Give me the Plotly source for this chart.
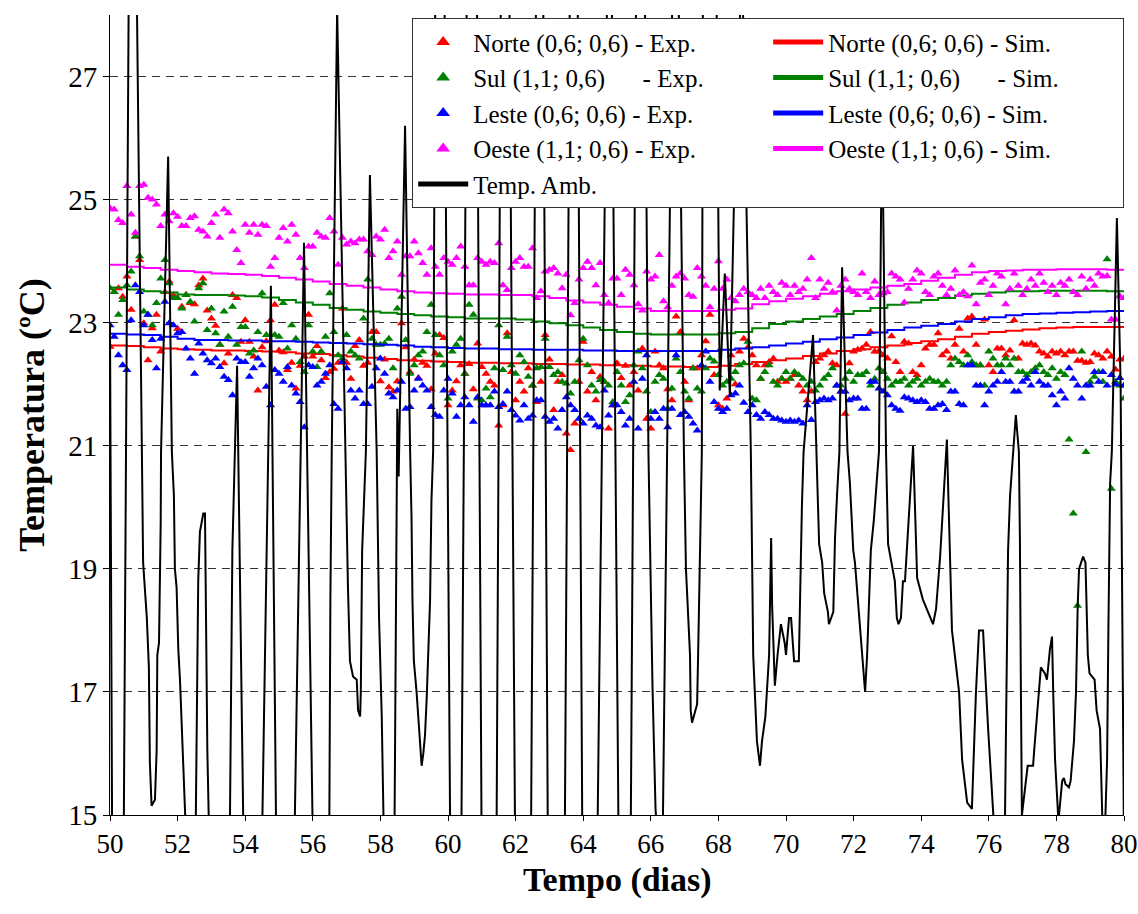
import plotly.graph_objects as go

# ---------------- data ----------------
# experimental series: 8 readings per day, days 50.000 ... 80.000
exp_start_day = 50
exp_per_day = 8

norte_exp = [
    22.61, 23.50, 23.56, 23.42, 23.75, 23.21, 24.40, 24.02,
    22.99, 22.39, 22.91, 23.13, 22.53, 23.50, 23.67, 23.45,
    22.90, 23.26, 23.45, 23.32, 23.30, 23.61, 23.72, 23.20,
    23.07, 22.95, 22.64, 22.34, 22.50, 23.45, 23.40, 22.69,
    23.04, 22.69, 22.45, 21.90, 22.60, 22.70, 23.04, 23.29,
    22.55, 22.52, 22.23, 22.35, 21.93, 22.30, 22.45, 23.13,
    22.45, 22.62, 22.39, 22.10, 22.20, 22.25, 22.35, 23.23,
    22.35, 22.09, 22.62, 22.72, 22.30, 22.35, 22.85, 22.85,
    22.05, 22.40, 21.95, 21.88, 22.05, 22.99, 22.60, 22.20,
    22.40, 22.10, 22.35, 22.30, 21.92, 22.50, 22.80, 22.75,
    21.66, 21.90, 22.05, 22.31, 22.17, 22.33, 21.92, 22.66,
    22.28, 22.17, 22.04, 21.98, 21.33, 21.66, 22.83, 22.20,
    21.74, 22.04, 21.88, 22.26, 21.98, 21.71, 22.04, 22.80,
    22.40, 21.58, 22.04, 22.15, 21.20, 20.93, 21.36, 22.04,
    22.69, 21.88, 22.20, 21.74, 22.12, 22.04, 21.28, 21.66,
    22.34, 22.10, 22.30, 21.98, 22.20, 21.90, 22.58, 21.44,
    21.28, 22.53, 22.31, 22.26, 21.92, 21.74, 23.10, 22.85,
    22.04, 21.74, 22.26, 22.26, 22.47, 22.70, 23.13, 22.15,
    21.66, 21.60, 21.77, 22.47, 22.00, 22.53, 22.74, 22.60,
    22.47, 22.31, 22.09, 22.31, 22.36, 22.42, 22.04, 22.09,
    22.04, 22.09, 22.15, 21.98, 21.88, 21.74, 21.88, 22.36,
    22.42, 22.47, 22.53, 22.34, 22.31, 21.88, 21.52, 22.34,
    22.53, 22.56, 22.58, 22.64, 22.85, 22.53, 22.53, 22.47,
    22.42, 22.78, 22.36, 22.20, 22.69, 22.66, 22.20, 22.15,
    22.31, 22.58, 22.64, 22.64, 22.83, 22.47, 22.53, 22.42,
    22.64, 22.90, 22.53, 23.07, 23.10, 22.64, 22.31, 23.05,
    22.31, 22.20, 22.58, 22.58, 22.47, 22.55, 23.04, 22.42,
    22.66, 22.64, 22.66, 22.63, 22.53, 22.50, 22.45, 22.53,
    22.50, 22.53, 22.47, 22.53, 22.53, 22.38, 22.38, 22.35,
    22.36, 22.50, 22.47, 22.42, 22.53, 22.45, 22.24, 22.40,
    22.42,
]

sul_exp = [
    23.56, 23.50, 23.13, 23.37, 23.61, 23.83, 24.40, 24.08,
    23.18, 23.13, 22.96, 23.32, 23.72, 24.02, 23.64, 23.40,
    23.40, 23.23, 23.45, 23.34, 23.02, 23.56, 23.64, 22.88,
    23.23, 22.83, 22.64, 23.18, 22.77, 23.26, 22.64, 22.93,
    22.93, 22.50, 22.55, 22.85, 23.48, 22.80, 22.80, 22.80,
    22.77, 23.32, 22.58, 22.96, 22.74, 22.36, 22.20, 22.96,
    22.53, 22.28, 22.53, 22.77, 23.48, 22.85, 22.47, 22.42,
    22.80, 22.53, 22.47, 22.42, 23.07, 23.70, 22.74, 22.64,
    22.64, 22.66, 22.74, 22.26, 23.23, 23.42, 22.72, 22.17,
    22.31, 22.47, 22.53, 22.85, 23.29, 22.80, 22.47, 22.31,
    21.77, 22.53, 22.64, 22.74, 22.17, 23.29, 23.13, 21.77,
    21.74, 21.93, 21.79, 22.26, 22.96, 22.23, 22.77, 22.31,
    22.17, 22.47, 22.36, 22.12, 21.98, 22.26, 22.28, 22.74,
    22.28, 22.15, 22.20, 22.04, 22.01, 21.85, 22.04, 22.39,
    22.74, 22.31, 21.98, 21.88, 22.07, 22.04, 21.98, 21.71,
    22.20, 21.98, 21.71, 21.82, 22.31, 22.53, 22.26, 21.88,
    21.55, 22.04, 22.15, 22.09, 21.60, 21.93, 22.42, 22.20,
    21.88, 21.77, 22.26, 21.93, 21.88, 22.26, 22.42, 22.37,
    22.15, 21.98, 22.04, 22.09, 22.20, 22.31, 22.34, 22.69,
    21.77, 21.74, 22.09, 22.20, 22.31, 22.04, 21.98, 22.09,
    22.20, 22.09, 22.20, 22.15, 22.09, 21.98, 22.04, 21.90,
    21.98, 22.09, 22.15, 22.26, 21.98, 21.98, 22.09, 22.20,
    22.04, 22.15, 22.15, 22.20, 21.98, 22.09, 22.26, 22.20,
    22.09, 21.98, 22.04, 22.04, 22.09, 21.98, 22.04, 22.09,
    21.98, 22.04, 22.09, 22.04, 22.04, 21.98, 22.04, 22.31,
    22.42, 22.36, 22.31, 22.47, 22.36, 22.31, 22.31, 21.98,
    22.53, 22.42, 22.31, 22.31, 22.42, 22.31, 22.42, 22.20,
    22.20, 22.15, 22.20, 22.26, 22.31, 22.20, 22.15, 22.26,
    22.09, 22.20, 22.15, 21.10, 19.90, 18.40, 22.53, 20.90,
    22.04, 22.12, 22.20, 22.04, 24.03, 20.30, 22.04, 21.98,
    21.77,
]

leste_exp = [
    22.96, 22.77, 22.47, 22.31, 22.23, 23.04, 23.61, 23.50,
    22.96, 23.13, 22.72, 22.26, 22.74, 23.34, 22.99, 22.96,
    22.83, 22.85, 22.58, 22.42, 22.17, 22.66, 22.50, 22.39,
    22.34, 22.42, 22.28, 22.12, 22.07, 21.82, 22.42, 22.36,
    22.36, 22.12, 22.26, 22.42, 22.31, 21.96, 21.66, 22.23,
    22.17, 22.04, 22.28, 21.98, 21.85, 21.71, 21.30, 22.31,
    22.28, 21.98, 22.04, 22.17, 22.31, 21.68, 21.60, 22.36,
    22.26, 21.90, 21.77, 21.90, 21.68, 21.68, 21.96, 22.26,
    22.42, 22.17, 21.85, 21.79, 21.90, 22.04, 21.60, 21.63,
    21.90, 22.09, 21.98, 21.90, 21.63, 21.50, 21.47, 21.90,
    22.09, 21.85, 21.47, 21.66, 21.79, 21.66, 21.39, 21.79,
    21.66, 21.66, 21.66, 21.88, 21.63, 21.68, 21.88, 21.58,
    21.49, 21.41, 21.66, 21.44, 21.49, 21.74, 21.74, 21.47,
    21.39, 21.44, 21.28, 21.58, 21.79, 21.66, 21.58, 21.44,
    21.36, 21.49, 21.44, 21.33, 21.30, 21.90, 21.49, 21.66,
    21.66, 21.55, 21.33, 21.44, 22.04, 21.28, 22.09, 22.47,
    21.44, 21.55, 21.44, 21.60, 21.30, 21.60, 22.47, 21.50,
    21.55, 21.47, 21.36, 21.25, 22.31, 22.53, 22.04, 21.71,
    21.60, 21.55, 21.60, 21.82, 21.85, 21.98, 21.70, 21.55,
    21.66, 21.50, 21.44, 21.55, 21.50, 21.44, 21.44, 21.41,
    21.39, 21.41, 21.39, 21.41, 21.36, 21.66, 21.42, 21.71,
    21.74, 21.77, 21.74, 21.77, 21.98, 21.88, 21.88, 21.74,
    21.77, 21.77, 21.60, 21.60, 22.04, 22.04, 21.93, 21.88,
    21.82, 21.66, 21.60, 21.57, 21.79, 21.77, 21.74, 21.71,
    21.74, 21.71, 21.60, 21.60, 21.66, 21.68, 21.58, 21.88,
    21.88, 21.68, 21.66, 22.31, 22.31, 21.98, 21.98, 21.66,
    21.88, 21.98, 22.04, 22.20, 22.04, 22.04, 21.88, 21.88,
    22.04, 22.09, 21.98, 22.20, 22.04, 21.98, 21.98, 21.82,
    21.66, 21.88, 21.77, 22.26, 22.09, 21.98, 21.77, 21.98,
    21.98, 22.20, 22.04, 22.20, 21.98, 22.15, 22.00, 22.10,
    21.98,
]

oeste_exp = [
    24.86, 24.84, 24.67, 24.62, 25.22, 24.76, 24.46, 25.22,
    25.24, 25.03, 25.00, 24.92, 24.57, 24.76, 24.65, 24.78,
    24.72, 24.57, 24.57, 24.70, 24.73, 24.51, 24.48, 24.40,
    24.62, 24.76, 24.38, 24.84, 24.78, 24.48, 24.18, 23.97,
    24.59, 24.46, 24.59, 24.43, 24.59, 24.57, 23.91, 24.05,
    24.38, 24.54, 24.32, 24.59, 24.43, 24.05, 23.89, 24.24,
    24.24, 24.46, 24.40, 24.38, 24.70, 24.48, 23.94, 24.38,
    24.27, 24.32, 24.29, 24.35, 24.35, 24.16, 24.10, 24.40,
    24.35, 24.51, 24.05, 24.16, 24.32, 23.78, 24.08, 24.08,
    24.32, 24.13, 23.97, 23.78, 24.21, 23.91, 23.78, 24.05,
    23.99, 23.94, 24.05, 24.24, 23.91, 23.61, 23.61, 24.05,
    23.99, 23.94, 23.99, 23.97, 24.29, 23.61, 23.53, 23.89,
    23.99, 24.05, 23.91, 23.91, 24.21, 23.40, 23.51, 23.83,
    23.86, 23.89, 23.80, 23.56, 23.78, 23.12, 23.32, 23.70,
    23.89, 23.99, 23.89, 23.61, 23.97, 23.45, 23.32, 23.72,
    23.72, 23.45, 23.86, 23.78, 23.61, 23.30, 23.20, 23.83,
    23.70, 23.75, 24.10, 23.35, 23.25, 23.60, 23.75, 23.80,
    23.72, 23.45, 23.42, 23.89, 23.75, 23.60, 23.25, 23.55,
    24.00, 23.55, 23.70, 23.40, 23.35, 23.45, 23.55, 23.50,
    23.45, 23.40, 23.55, 23.40, 23.60, 23.50, 23.45, 23.65,
    23.60, 23.45, 23.60, 23.50, 23.55, 23.70, 24.05, 23.40,
    23.70, 23.55, 23.65, 23.50, 23.20, 23.60, 23.70, 23.55,
    23.50, 23.45, 23.80, 23.50, 23.40, 23.67, 23.45, 23.48,
    23.50, 23.80, 23.75, 23.70, 23.33, 23.55, 23.70, 23.85,
    23.80, 23.50, 23.45, 23.75, 23.80, 23.60, 23.45, 23.55,
    23.85, 23.45, 23.50, 23.43, 23.93, 23.30, 23.65, 23.70,
    23.45, 23.60, 23.80, 23.75, 23.30, 23.55, 23.80, 23.60,
    23.45, 23.55, 23.70, 23.60, 23.80, 23.65, 23.50, 23.60,
    23.45, 23.65, 23.60, 23.70, 23.50, 23.45, 23.75, 23.55,
    23.70, 23.60, 23.80, 23.75, 23.76, 23.05, 23.05, 23.43,
    23.40,
]

# simulated series: one value every half day, days 50.0 ... 80.0
sim_step = 0.5
norte_sim = [
    22.63, 22.62, 22.60, 22.58, 22.57, 22.56, 22.55, 22.55, 22.54, 22.53,
    22.52, 22.50, 22.49, 22.47, 22.45, 22.43, 22.41, 22.39, 22.38, 22.37,
    22.36, 22.35, 22.35, 22.34, 22.34, 22.33, 22.33, 22.32, 22.32, 22.31,
    22.31, 22.30, 22.29, 22.29, 22.28, 22.28, 22.30, 22.33, 22.36, 22.39,
    22.42, 22.46, 22.50, 22.54, 22.57, 22.60, 22.63, 22.67, 22.70, 22.73,
    22.77, 22.82, 22.85, 22.87, 22.89, 22.91, 22.92, 22.93, 22.93, 22.93,
    22.93,
]
leste_sim = [
    22.82, 22.81, 22.80, 22.77, 22.74, 22.72, 22.72, 22.71, 22.71, 22.70,
    22.70, 22.69, 22.68, 22.67, 22.66, 22.65, 22.64, 22.63, 22.61, 22.60,
    22.59, 22.58, 22.58, 22.57, 22.57, 22.56, 22.56, 22.56, 22.55, 22.55,
    22.54, 22.54, 22.54, 22.54, 22.54, 22.54, 22.56, 22.58, 22.60, 22.63,
    22.66, 22.69, 22.73, 22.76, 22.80, 22.84, 22.88, 22.92, 22.95, 22.98,
    23.02, 23.06, 23.09, 23.12, 23.14, 23.15, 23.16, 23.17, 23.18, 23.19,
    23.19,
]
sul_sim = [
    23.57, 23.54, 23.51, 23.49, 23.46, 23.45, 23.45, 23.44, 23.43, 23.41,
    23.37, 23.33, 23.29, 23.24, 23.21, 23.18, 23.16, 23.14, 23.12, 23.10,
    23.09, 23.07, 23.07, 23.07, 23.05, 23.02, 22.99, 22.96, 22.92, 22.88,
    22.85, 22.82, 22.81, 22.81, 22.81, 22.81, 22.83, 22.85, 22.91, 22.98,
    23.02, 23.06, 23.10, 23.14, 23.19, 23.24, 23.29, 23.33, 23.37, 23.40,
    23.44, 23.47, 23.49, 23.51, 23.51, 23.52, 23.52, 23.52, 23.52, 23.51,
    23.51,
]
oeste_sim = [
    23.94, 23.91, 23.89, 23.86, 23.84, 23.82, 23.80, 23.79, 23.78, 23.76,
    23.73, 23.70, 23.67, 23.63, 23.60, 23.57, 23.54, 23.51, 23.49, 23.48,
    23.47, 23.46, 23.46, 23.45, 23.45, 23.43, 23.40, 23.36, 23.33, 23.29,
    23.26, 23.23, 23.19, 23.19, 23.19, 23.19, 23.21, 23.23, 23.30, 23.35,
    23.39, 23.43, 23.47, 23.51, 23.54, 23.57, 23.60, 23.63, 23.68, 23.73,
    23.78, 23.82, 23.84, 23.85, 23.86, 23.86, 23.87, 23.87, 23.87, 23.86,
    23.86,
]

# ambient temperature: turning points (day, degC); values outside 15-28 run off the axes
amb_day = [
    50.00, 50.06, 50.23, 50.41, 50.55, 50.68, 50.80, 50.94, 50.98, 51.09,
    51.15, 51.18, 51.23, 51.33, 51.38, 51.40, 51.45, 51.50, 51.51, 51.72,
    51.83, 51.89, 51.92, 51.97, 52.02, 52.07, 52.12, 52.17, 52.25, 52.40,
    52.54, 52.56, 52.61, 52.66, 52.76, 52.81, 52.84, 52.88, 52.92, 53.20,
    53.55, 53.62, 53.76, 53.94, 54.20, 54.51, 54.76, 54.91, 55.20, 55.47,
    55.74, 55.99, 56.25, 56.49, 56.52, 56.56, 56.72, 56.95, 57.04, 57.10,
    57.19, 57.30, 57.34, 57.40, 57.42, 57.46, 57.51, 57.57, 57.69, 57.89,
    57.96, 58.04, 58.09, 58.25, 58.42, 58.50, 58.54, 58.73, 58.88, 58.92,
    58.95, 58.99, 59.07, 59.15, 59.19, 59.22, 59.27, 59.32, 59.37, 59.42,
    59.47, 59.51, 59.56, 59.62, 59.72, 59.90, 60.06, 60.23, 60.40, 60.55,
    60.71, 60.86, 60.99, 61.20, 61.44, 61.56, 61.68, 61.82, 61.98, 62.20,
    62.46, 62.60, 62.70, 62.82, 62.95, 63.20, 63.46, 63.60, 63.70, 63.84,
    63.97, 64.20, 64.43, 64.70, 64.77, 64.85, 65.04, 65.22, 65.41, 65.56,
    65.70, 65.83, 65.93, 66.05, 66.14, 66.21, 66.28, 66.36, 66.63, 66.73,
    66.83, 66.98, 67.04, 67.16, 67.18, 67.22, 67.37, 67.40, 67.46, 67.51,
    67.54, 67.75, 67.95, 68.04, 68.19, 68.34, 68.50, 68.64, 68.69, 68.73,
    68.96, 69.03, 69.14, 69.23, 69.29, 69.39, 69.50, 69.56, 69.59, 69.67,
    69.75, 69.85, 69.96, 70.00, 70.09, 70.15, 70.24, 70.38, 70.47, 70.52,
    70.80, 70.91, 70.98, 71.07, 71.13, 71.24, 71.27, 71.40, 71.45, 71.51,
    71.58, 71.66, 71.82, 71.89, 71.99, 72.04, 72.19, 72.25, 72.34, 72.40,
    72.51, 72.60, 72.75, 72.84, 72.96, 73.02, 73.11, 73.22, 73.28, 73.33,
    73.40, 73.46, 73.52, 73.76, 73.88, 74.05, 74.35, 74.44, 74.56, 74.76,
    74.91, 75.12, 75.21, 75.36, 75.50, 75.62, 75.71, 75.83, 75.98, 76.12,
    76.30, 76.48, 76.57, 76.63, 76.80, 76.89, 76.92, 76.95, 76.98, 77.15,
    77.31, 77.35, 77.46, 77.54, 77.66, 77.72, 77.81, 77.87, 77.91, 77.96,
    78.06, 78.17, 78.22, 78.27, 78.37, 78.42, 78.52, 78.58, 78.63, 78.67,
    78.79, 78.86, 78.93, 78.98, 79.13, 79.19, 79.29, 79.34, 79.38, 79.44,
    79.50, 79.54, 79.59, 79.64, 79.79, 79.90, 79.97, 80.00,
]
amb_temp = [
    23.0, 15.0, 12.0, 15.0, 28.0, 32.0, 28.0, 20.9, 19.1, 18.2,
    17.4, 15.85, 15.15, 15.25, 16.05, 17.6, 17.8, 19.75, 20.9, 25.7,
    20.9, 20.2, 19.0, 18.7, 17.7, 17.2, 16.6, 15.8, 15.0, 12.5,
    15.0, 16.05, 18.8, 19.6, 19.9, 19.9, 17.7, 16.05, 15.0, 12.0,
    15.0, 19.3, 22.3, 15.0, 12.0, 15.0, 23.6, 15.0, 12.0, 15.0,
    24.3, 15.0, 12.0, 15.0, 18.5, 20.9, 28.1, 20.9, 18.7, 17.5,
    17.25, 17.2, 16.7, 16.6, 17.0, 19.3, 20.1, 20.9, 25.4, 20.9,
    18.2, 16.6, 15.0, 12.5, 15.0, 21.6, 20.5, 26.2, 20.9, 19.85,
    18.45, 17.5, 17.0, 16.3, 15.9, 15.8, 16.0, 16.3, 16.9, 17.6,
    18.5, 20.1, 20.9, 28.0, 32.0, 28.0, 15.0, 12.0, 15.0, 28.0,
    32.0, 28.0, 15.0, 12.0, 15.0, 28.0, 32.0, 28.0, 15.0, 12.0,
    15.0, 28.0, 32.0, 28.0, 15.0, 12.0, 15.0, 28.0, 32.0, 28.0,
    15.0, 12.0, 15.0, 28.0, 31.0, 28.0, 15.0, 12.0, 15.0, 28.0,
    31.0, 28.0, 20.9, 17.1, 15.1, 14.5, 13.0, 15.0, 28.0, 31.0,
    28.0, 20.9, 19.0, 17.6, 16.7, 16.5, 16.8, 17.6, 19.3, 20.9,
    28.0, 31.0, 28.0, 21.9, 23.8, 21.8, 26.0, 28.0, 31.0, 28.0,
    20.9, 17.6, 16.2, 15.8, 16.2, 16.6, 17.6, 19.5, 18.4, 17.1,
    17.6, 18.1, 17.8, 17.6, 18.2, 18.2, 17.5, 17.5, 20.0, 20.9,
    22.8, 20.9, 19.4, 19.1, 18.6, 18.3, 18.1, 18.3, 19.5, 20.2,
    20.9, 23.9, 20.9, 20.4, 19.3, 19.1, 18.0, 17.6, 17.0, 17.6,
    19.3, 19.8, 20.9, 26.5, 20.9, 19.4, 19.1, 18.8, 18.2, 18.1,
    18.2, 18.8, 18.8, 21.0, 18.85, 18.5, 18.1, 18.35, 19.2, 21.1,
    18.0, 17.0, 15.9, 15.2, 15.1, 17.0, 18.0, 18.0, 16.4, 15.0,
    13.5, 15.0, 19.3, 20.2, 21.5, 20.9, 19.5, 17.0, 15.0, 15.8,
    15.8, 16.1, 16.9, 17.4, 17.3, 17.2, 17.7, 17.9, 16.9, 15.9,
    14.9, 15.55, 15.6, 15.5, 15.45, 15.55, 16.2, 17.0, 18.4, 19.0,
    19.2, 19.1, 17.6, 17.3, 17.2, 16.7, 16.4, 15.3, 14.5, 14.8,
    15.9, 18.1, 20.4, 20.9, 24.7, 22.0, 17.6, 14.5,
]

x_ticks = [50, 52, 54, 56, 58, 60, 62, 64, 66, 68, 70, 72, 74, 76, 78, 80]
y_ticks = [15, 17, 19, 21, 23, 25, 27]

exp_days = [exp_start_day + i / exp_per_day for i in range(len(norte_exp))]
sim_days = [exp_start_day + i * sim_step for i in range(len(norte_sim))]

# ---------------- figure ----------------
FONT = "Liberation Serif"
RED, GREEN, BLUE, MAGENTA = "#FF0000", "#008000", "#0000FF", "#FF00FF"

fig = go.Figure()

pairs = [
    ("Norte (0,6; 0,6) - Exp.", norte_exp, "Norte (0,6; 0,6) - Sim.", norte_sim, RED),
    ("Sul (1,1; 0,6)      - Exp.", sul_exp, "Sul (1,1; 0,6)      - Sim.", sul_sim, GREEN),
    ("Leste (0,6; 0,6) - Exp.", leste_exp, "Leste (0,6; 0,6) - Sim.", leste_sim, BLUE),
    ("Oeste (1,1; 0,6) - Exp.", oeste_exp, "Oeste (1,1; 0,6) - Sim.", oeste_sim, MAGENTA),
]

for exp_name, exp_vals, sim_name, sim_vals, col in pairs:
    fig.add_trace(go.Scatter(
        x=exp_days, y=exp_vals, mode="markers", name=exp_name,
        marker=dict(symbol="triangle-up", size=8, color=col, line=dict(width=0)),
        cliponaxis=True,
    ))
    fig.add_trace(go.Scatter(
        x=sim_days, y=sim_vals, mode="lines", name=sim_name,
        line=dict(color=col, width=2, shape="hv"),
    ))

fig.add_trace(go.Scatter(
    x=amb_day, y=amb_temp, mode="lines", name="Temp. Amb.",
    line=dict(color="black", width=2),
))

fig.update_layout(
    width=1138, height=914,
    margin=dict(l=110, r=14, t=15, b=99, autoexpand=False),
    paper_bgcolor="white", plot_bgcolor="white",
    font=dict(family=FONT, color="black", size=28),
    showlegend=True,
    legend=dict(
        orientation="h",
        x=0.298, xanchor="left", y=0.996, yanchor="top",
        bgcolor="white", bordercolor="#333333", borderwidth=1,
        font=dict(family=FONT, size=25, color="black"),
        entrywidth=290, entrywidthmode="pixels",
        itemwidth=50, itemsizing="constant",
        traceorder="normal", tracegroupgap=0,
    ),
    xaxis=dict(
        range=[50, 80], tickmode="array", tickvals=x_ticks,
        ticktext=[str(v) for v in x_ticks],
        showgrid=False, zeroline=False,
        showline=True, linecolor="black", linewidth=1,
        ticks="outside", ticklen=5, tickcolor="black",
        tickfont=dict(family=FONT, size=27),
        ticklabeloverflow="allow",
    ),
    yaxis=dict(
        range=[15, 28], tickmode="array", tickvals=y_ticks,
        ticktext=[str(v) for v in y_ticks],
        showgrid=True, gridcolor="#333333", gridwidth=1, griddash="8px,6px",
        zeroline=False,
        showline=True, linecolor="black", linewidth=1,
        ticks="outside", ticklen=6, tickcolor="black",
        tickfont=dict(family=FONT, size=29),
        title=dict(text="<b>Temperatura (ºC)</b>", font=dict(family=FONT, size=36), standoff=12),
    ),
    annotations=[dict(
        text="<b>Tempo (dias)</b>", xref="paper", yref="paper",
        x=0.5, y=-0.081, xanchor="center", yanchor="middle",
        showarrow=False, font=dict(family=FONT, size=34, color="black"),
    )],
)

fig.write_html("out.html")
